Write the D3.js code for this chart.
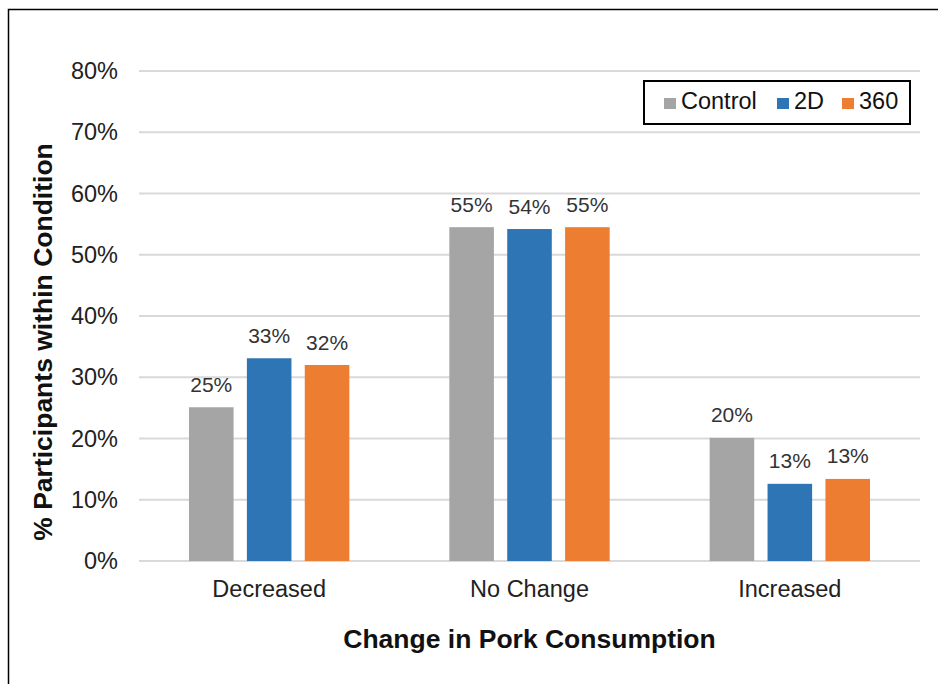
<!DOCTYPE html>
<html>
<head>
<meta charset="utf-8">
<script src="https://cdn.jsdelivr.net/npm/d3@7"></script>
<style>
  body { margin: 0; background: #fff; }
  text { font-family: "Liberation Sans", Arial, sans-serif; }
</style>
</head>
<body>
<script>
const categories = ["Decreased", "No Change", "Increased"];
const series = ["Control", "2D", "360"];
const control = [25.1, 54.5, 20.1];
const twoD = [33.1, 54.2, 12.6];
const three60 = [32.0, 54.5, 13.4];
const yTicks = [0, 10, 20, 30, 40, 50, 60, 70, 80];
const colors = ["#a5a5a5", "#2e75b6", "#ed7d31"];

const W = 938, H = 684;
const margin = { top: 71, right: 18, bottom: 123, left: 139 };
const width = W - margin.left - margin.right;
const height = H - margin.top - margin.bottom;

const svg = d3.select("body").append("svg")
    .attr("width", W)
    .attr("height", H);

// outer chart border (cropped on right and bottom)
svg.append("rect")
    .attr("x", 8.5).attr("y", 9.5)
    .attr("width", 960).attr("height", 700)
    .attr("fill", "none")
    .attr("stroke", "#000")
    .attr("stroke-width", 1.5);

const g = svg.append("g")
    .attr("transform", `translate(${margin.left}, ${margin.top})`);

const x0 = d3.scaleBand()
    .domain(categories)
    .range([0, width]);

const x1 = d3.scaleBand()
    .domain(series)
    .range([50, x0.bandwidth() - 50])
    .paddingInner(0.23);

const y = d3.scaleLinear()
    .domain([0, 80])
    .range([height, 0]);

// gridlines
g.append("g")
    .selectAll("line")
    .data(yTicks)
    .join("line")
    .attr("x1", 0)
    .attr("x2", width)
    .attr("y1", d => y(d))
    .attr("y2", d => y(d))
    .attr("stroke", "#d9d9d9")
    .attr("stroke-width", 2);

const yAxis = d3.axisLeft(y)
    .tickValues(yTicks)
    .tickFormat(d => d + "%")
    .tickSize(0)
    .tickPadding(21);

g.append("g")
    .call(yAxis)
    .call(a => a.select(".domain").remove())
    .selectAll("text")
    .attr("font-size", 23.5)
    .attr("fill", "#222");

const data = categories.map((c, i) => ({
    cat: c,
    values: [control[i], twoD[i], three60[i]]
}));

const group = g.selectAll(".grp")
    .data(data)
    .join("g")
    .attr("class", "grp")
    .attr("transform", d => `translate(${x0(d.cat)}, 0)`);

group.selectAll("rect")
    .data(d => d.values.map((v, j) => ({ key: series[j], v: v, j: j })))
    .join("rect")
    .attr("x", d => x1(d.key))
    .attr("width", x1.bandwidth())
    .attr("y", d => y(d.v))
    .attr("height", d => height - y(d.v))
    .attr("fill", d => colors[d.j]);

group.selectAll(".lbl")
    .data(d => d.values.map((v, j) => ({ key: series[j], v: v })))
    .join("text")
    .attr("class", "lbl")
    .attr("x", d => x1(d.key) + x1.bandwidth() / 2)
    .attr("y", d => y(d.v) - 15.5)
    .attr("text-anchor", "middle")
    .attr("font-size", 21)
    .attr("fill", "#333")
    .text(d => Math.round(d.v) + "%");

const xAxis = d3.axisBottom(x0).tickSize(0).tickPadding(19);

g.append("g")
    .attr("transform", `translate(0, ${height})`)
    .call(xAxis)
    .call(a => a.select(".domain").remove())
    .selectAll("text")
    .attr("font-size", 23.5)
    .attr("fill", "#222");

// axis titles
svg.append("text")
    .attr("x", margin.left + width / 2)
    .attr("y", 648)
    .attr("text-anchor", "middle")
    .attr("font-size", 26.5)
    .attr("font-weight", "bold")
    .attr("fill", "#111")
    .text("Change in Pork Consumption");

svg.append("text")
    .attr("transform", `translate(52, 342) rotate(-90)`)
    .attr("text-anchor", "middle")
    .attr("font-size", 26.5)
    .attr("font-weight", "bold")
    .attr("fill", "#111")
    .text("% Participants within Condition");

// legend
const legend = svg.append("g").attr("transform", "translate(644, 81)");
legend.append("rect")
    .attr("width", 266).attr("height", 43)
    .attr("fill", "#fff")
    .attr("stroke", "#000")
    .attr("stroke-width", 2);

const legX = [20, 133, 198];
const item = legend.selectAll(".item")
    .data(series)
    .join("g")
    .attr("class", "item")
    .attr("transform", (d, i) => `translate(${legX[i]}, 0)`);

item.append("rect")
    .attr("y", 17).attr("width", 12).attr("height", 11)
    .attr("fill", (d, i) => colors[i]);

item.append("text")
    .attr("x", 17).attr("y", 28)
    .attr("font-size", 23.5)
    .attr("fill", "#111")
    .text(d => d);
</script>
</body>
</html>
